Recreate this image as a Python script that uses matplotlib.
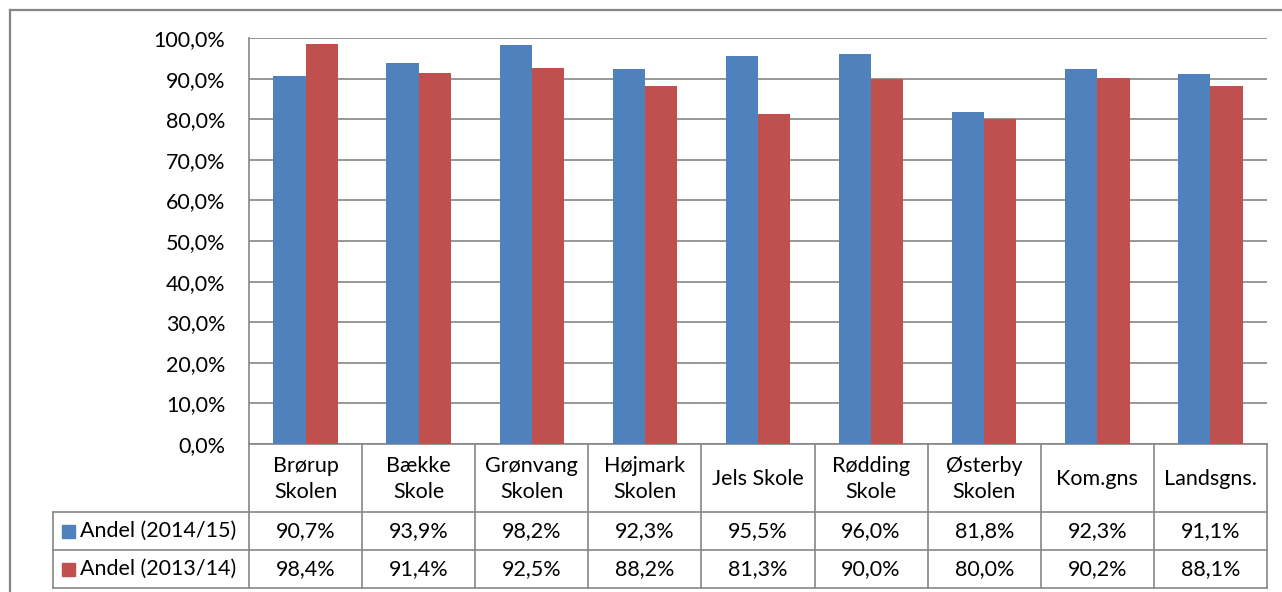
import matplotlib
matplotlib.use("Agg")
import matplotlib.pyplot as plt
from matplotlib.lines import Line2D
from matplotlib.patches import Rectangle

categories = ["Brørup\nSkolen", "Bække\nSkole", "Grønvang\nSkolen", "Højmark\nSkolen",
              "Jels Skole", "Rødding\nSkole", "Østerby\nSkolen", "Kom.gns", "Landsgns."]
series_names = ["Andel (2014/15)", "Andel (2013/14)"]
andel_2014_15 = [90.7, 93.9, 98.2, 92.3, 95.5, 96.0, 81.8, 92.3, 91.1]
andel_2013_14 = [98.4, 91.4, 92.5, 88.2, 81.3, 90.0, 80.0, 90.2, 88.1]
y_ticks = [0, 10, 20, 30, 40, 50, 60, 70, 80, 90, 100]

colors = ["#4F81BD", "#C0504D"]
grid_c = "#868686"
FONT = "Lato"
FS = 15.5

W, H = 1282, 592
fig = plt.figure(figsize=(W / 100, H / 100), dpi=100)


def fx(x):
    return x / W


def fy(y):
    return 1 - y / H


ax_l, ax_r, ax_t, ax_b = 249, 1267, 38, 444
ax = fig.add_axes([fx(ax_l), fy(ax_b), (ax_r - ax_l) / W, (ax_b - ax_t) / H])

n = len(categories)
bw = 0.285
xs = list(range(n))
ax.bar([x - bw / 2 for x in xs], andel_2014_15, width=bw, color=colors[0], zorder=3)
ax.bar([x + bw / 2 for x in xs], andel_2013_14, width=bw, color=colors[1], zorder=3)
ax.set_xlim(-0.5, n - 0.5)
ax.set_ylim(0, 100)
ax.set_yticks(y_ticks)
ax.set_yticklabels([f"{v:.1f}%".replace(".", ",") for v in y_ticks], fontsize=FS, family=FONT)
ax.tick_params(axis="y", length=0, pad=17)
ax.set_xticks([])
for s in ["top", "right"]:
    ax.spines[s].set_visible(False)
for s in ["left", "bottom"]:
    ax.spines[s].set_color(grid_c)
    ax.spines[s].set_linewidth(1.2)
ax.grid(axis="y", color=grid_c, linewidth=1.2, zorder=0)
ax.set_axisbelow(True)


def hline(y, x0, x1, lw=1.2):
    fig.add_artist(Line2D([fx(x0), fx(x1)], [fy(y), fy(y)], color=grid_c, lw=lw))


def vline(x, y0, y1, lw=1.2):
    fig.add_artist(Line2D([fx(x), fx(x)], [fy(y0), fy(y1)], color=grid_c, lw=lw))


# outer border
hline(10, 10, W, lw=1.6)
vline(10, 10, H, lw=1.6)

# table
tl = 53
rows = [444, 512, 550, 588]
cw = (ax_r - ax_l) / n
for k in range(n + 1):
    vline(ax_l + k * cw, rows[0], rows[3])
vline(tl, rows[1], rows[3])
for y in rows[1:]:
    hline(y, tl, ax_r)

for i, c in enumerate(categories):
    cx = ax_l + (i + 0.5) * cw
    fig.text(fx(cx), fy((rows[0] + rows[1]) / 2 + 1), c, ha="center", va="center",
             fontsize=FS, family=FONT, linespacing=1.4)

for r, (name, vals) in enumerate(zip(series_names, [andel_2014_15, andel_2013_14])):
    cy = (rows[r + 1] + rows[r + 2]) / 2
    fig.add_artist(Rectangle((fx(62), fy(cy + 6.5)), 13 / W, 13 / H, color=colors[r],
                             transform=fig.transFigure))
    fig.text(fx(80), fy(cy), name, ha="left", va="center", fontsize=FS, family=FONT)
    for i, v in enumerate(vals):
        cx = ax_l + (i + 0.5) * cw
        fig.text(fx(cx), fy(cy), f"{v:.1f}%".replace(".", ","), ha="center", va="center",
                 fontsize=FS, family=FONT)

fig.savefig("out.png", dpi=100)
